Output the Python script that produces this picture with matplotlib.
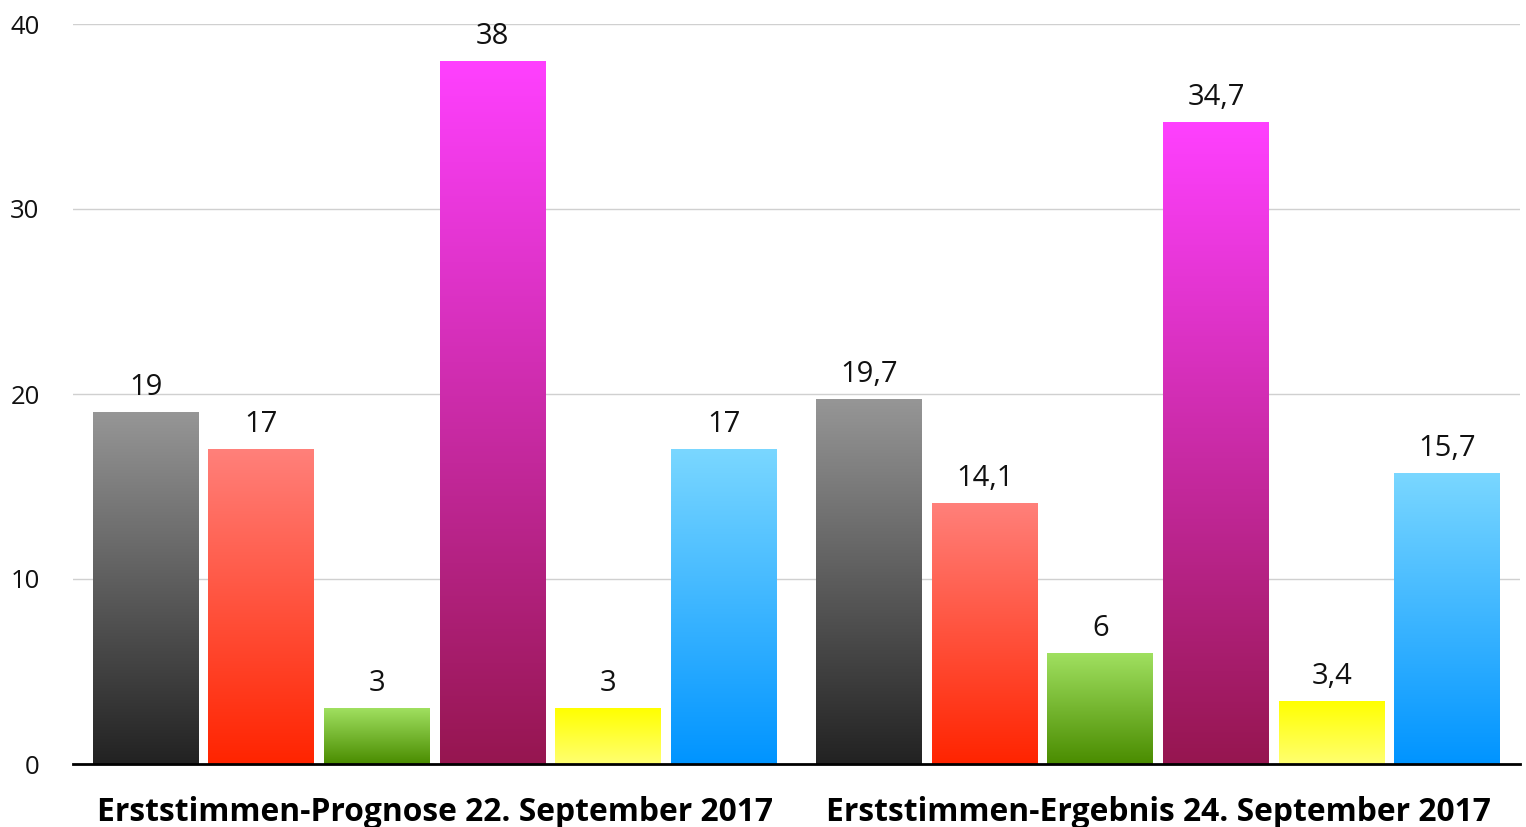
import numpy as np
import matplotlib
matplotlib.use("Agg")
import matplotlib.pyplot as plt
from matplotlib.colors import to_rgb

# ---- data ----
categories = ["Erststimmen-Prognose 22. September 2017",
              "Erststimmen-Ergebnis 24. September 2017"]
series_names = ["Partei 1", "Partei 2", "Partei 3", "Partei 4", "Partei 5", "Partei 6"]
prognose = [19, 17, 3, 38, 3, 17]
ergebnis = [19.7, 14.1, 6, 34.7, 3.4, 15.7]
y_ticks = [0, 10, 20, 30, 40]

# gradient colours (top, bottom) per series
grad_top = ["#969696", "#ff807a", "#a0e060", "#ff40ff", "#ffff00", "#7ad7ff"]
grad_bottom = ["#222222", "#ff2400", "#4a8c00", "#961650", "#ffff70", "#0094ff"]

values = np.array([prognose, ergebnis])  # shape (categories, series)

fig = plt.figure(figsize=(15.26, 8.27), dpi=100)
ax = fig.add_axes([73 / 1526, 63 / 827, (1520 - 73) / 1526, 740 / 827])

n_series = len(series_names)
step = 0.1598
width = 0.1465
x = np.arange(len(categories))

for s in range(n_series):
    offs = (s - (n_series - 1) / 2) * step
    bars = ax.bar(x + offs, values[:, s], width=width, facecolor="none",
                  edgecolor="none", zorder=3)
    c0 = np.array(to_rgb(grad_top[s]))
    c1 = np.array(to_rgb(grad_bottom[s]))
    t = np.linspace(0, 1, 256)[:, None, None]
    grad = c0[None, None, :] * (1 - t) + c1[None, None, :] * t
    for rect, v in zip(bars, values[:, s]):
        x0 = rect.get_x()
        x1 = x0 + rect.get_width()
        ax.imshow(grad, extent=[x0, x1, 0, rect.get_height()], origin="upper",
                  aspect="auto", interpolation="bilinear", zorder=3)
        lbl = f"{v:g}".replace(".", ",")
        ax.annotate(lbl, (x0 + rect.get_width() / 2, rect.get_height()),
                    xytext=(0, 7.5), textcoords="offset points",
                    ha="center", va="bottom", fontsize=21,
                    family="Open Sans", color="#111111")

ax.set_xlim(-0.5, len(categories) - 0.5)
ax.set_ylim(0, 40)
ax.set_yticks(y_ticks)
ax.set_yticklabels([str(v) for v in y_ticks], family="Open Sans", fontsize=18.5,
                   color="#111111")
ax.tick_params(axis="y", length=0, pad=24)
ax.set_xticks(x)
ax.set_xticklabels(categories, family="Open Sans", fontweight="bold",
                   fontsize=22.9, color="#000000")
ax.tick_params(axis="x", length=0, pad=23)

ax.grid(axis="y", color="#d0d0d0", linewidth=1, zorder=0)
ax.set_axisbelow(True)
for sp in ["top", "right", "left"]:
    ax.spines[sp].set_visible(False)
ax.spines["bottom"].set_linewidth(2)
ax.spines["bottom"].set_color("#000000")
ax.spines["bottom"].set_zorder(5)

fig.savefig("out.png", dpi=100)
